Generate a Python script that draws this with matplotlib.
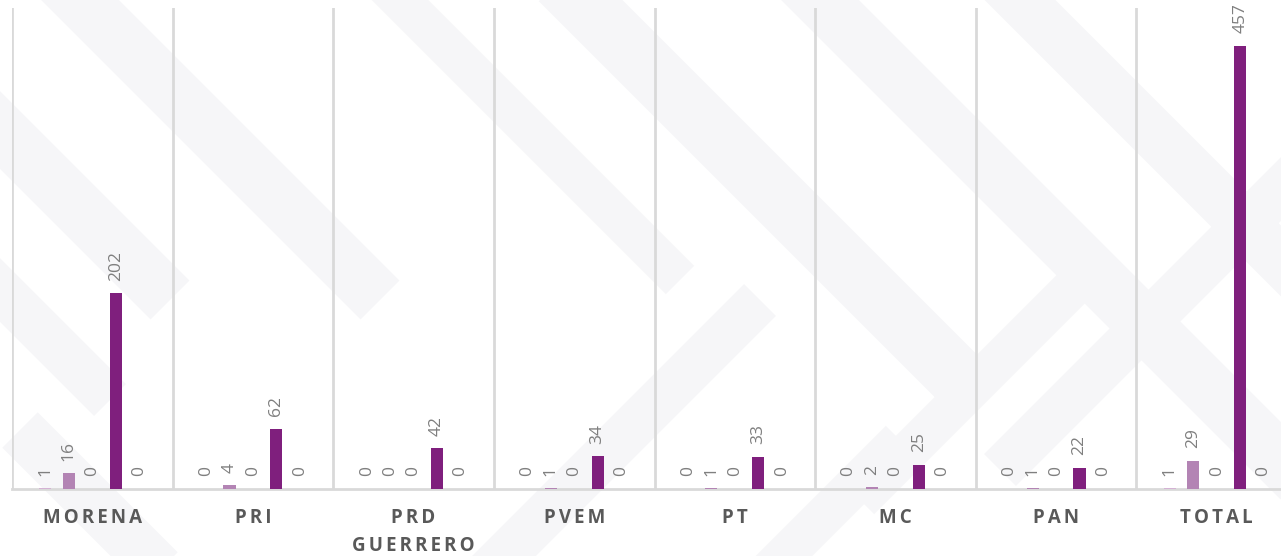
import matplotlib
matplotlib.use("Agg")
import numpy as np
import matplotlib.pyplot as plt
from matplotlib.patches import Polygon

# ---------------------------------------------------
# Data
# ---------------------------------------------------
categories = ["MORENA", "PRI", "PRD\nGUERRERO", "PVEM", "PT", "MC", "PAN", "TOTAL"]
serie_1 = [1, 0, 0, 0, 0, 0, 0, 1]
serie_2 = [16, 4, 0, 1, 1, 2, 1, 29]
serie_3 = [0, 0, 0, 0, 0, 0, 0, 0]
serie_4 = [202, 62, 42, 34, 33, 25, 22, 457]
serie_5 = [0, 0, 0, 0, 0, 0, 0, 0]

series = [serie_1, serie_2, serie_3, serie_4, serie_5]
colors = ["#D4B2D4", "#B384B4", "#9C4E9C", "#7F1F7D", "#5C165C"]

W, H = 1281, 556
plt.rcParams["font.family"] = ["Open Sans", "DejaVu Sans"]

fig = plt.figure(figsize=(W / 100, H / 100), dpi=100)
fig.patch.set_facecolor("white")


# ---------------------------------------------------
# Watermark (faint diagonal stripes)
# ---------------------------------------------------
def stripe(x0, y0, x1, y1, w):
    d = np.array([x1 - x0, y1 - y0], float)
    n = np.array([-d[1], d[0]]) / np.hypot(*d) * w / 2
    pts = [(x0 + n[0], y0 + n[1]), (x1 + n[0], y1 + n[1]),
           (x1 - n[0], y1 - n[1]), (x0 - n[0], y0 - n[1])]
    pts = [(x / W, 1 - y / H) for x, y in pts]
    fig.patches.append(Polygon(pts, closed=True, transform=fig.transFigure,
                               facecolor="#F6F6F8", edgecolor="none", zorder=-10))

for s in [(-40, 90, 170, 300, 55), (-40, 250, 110, 400, 45),
          (60, -20, 380, 300, 55), (380, -20, 680, 280, 40),
          (560, -20, 960, 380, 60), (800, -20, 1300, 480, 55),
          (1000, -20, 1300, 280, 50), (20, 430, 160, 570, 50),
          (480, 580, 760, 300, 45), (760, 580, 900, 440, 40),
          (860, 500, 1080, 280, 40), (1000, 470, 1300, 170, 45)]:
    stripe(*s)

# ---------------------------------------------------
# Chart
# ---------------------------------------------------
ax = fig.add_axes([12 / W, (H - 489) / H, 1285 / W, 481 / H])
ax.patch.set_alpha(0)
ax.set_zorder(2)

x = np.arange(len(categories))
step = 0.146
width = 0.075
for k, vals in enumerate(series):
    pos = x + (k - 2) * step
    ax.bar(pos, vals, width=width, color=colors[k], zorder=3)
    for px, v in zip(pos, vals):
        ax.annotate(str(v), xy=(px, v), xytext=(0, 9), textcoords="offset points",
                    rotation=90, ha="center", va="bottom",
                    fontsize=12.5, color="#7F7F7F", zorder=4)

ax.set_xlim(-0.5, len(categories) - 0.5)
ax.set_ylim(0, 496)
ax.set_yticks([])
ax.set_xticks([])
for b in np.arange(-0.5, len(categories), 1.0):
    ax.axvline(b, color="#D9D9D9", lw=2, zorder=1)

for side in ["top", "right", "left"]:
    ax.spines[side].set_visible(False)
ax.spines["bottom"].set_color("#D9D9D9")
ax.spines["bottom"].set_linewidth(2)

# letter-spaced category names (six-per-em space between letters)
for i, cat in enumerate(categories):
    lbl = "\n".join("\u2006".join(line) for line in cat.split("\n"))
    ax.annotate(lbl, xy=(i, 0), xycoords=("data", "axes fraction"),
                xytext=(0, -14), textcoords="offset points",
                ha="center", va="top", fontsize=13.5, fontweight="bold",
                color="#595959", linespacing=1.5)

fig.savefig("out.png", dpi=100)
